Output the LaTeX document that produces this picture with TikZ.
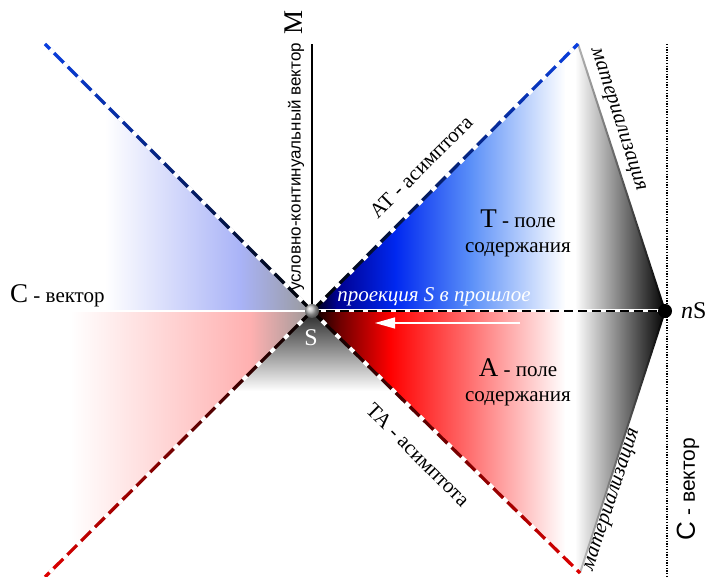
\documentclass[tikz,border=0pt]{standalone}
\usepackage{fontspec}
\setmainfont{Liberation Serif}
\setsansfont{Liberation Sans}
\usetikzlibrary{arrows.meta,calc}
\definecolor{asymblue}{HTML}{0A3FE0}
\definecolor{asymred}{HTML}{E00000}
\definecolor{tnavy}{HTML}{000090}
\definecolor{tblue}{HTML}{0028F0}
\definecolor{tsky}{HTML}{5A8FF8}
\definecolor{adark}{HTML}{700000}
\definecolor{ared}{HTML}{FF0000}
\definecolor{apink}{HTML}{FF7070}
\definecolor{cblue}{HTML}{A9B3F7}
\definecolor{cred}{HTML}{FFB0B0}
\definecolor{cgray}{HTML}{999999}
\newcommand{\txtfs}{\fontsize{21}{25}\selectfont}
\newcommand{\bigfs}{\fontsize{27}{30}\selectfont}

\begin{document}
\begin{tikzpicture}[x=1pt, y=1pt, inner sep=2pt,
    gapdash/.style={white, line width=4pt, dash pattern=on 5.5pt off 14pt, dash phase=5.5pt},
    lbl/.style={font=\txtfs},
    lblit/.style={font=\itshape\txtfs}]
  \fill[white] (0,0) rectangle (709,577);
  \useasboundingbox (0,0) rectangle (709,577);
  % main points
  \coordinate (S) at (312,266);
  \coordinate (nS) at (665,266);
  \coordinate (ul) at (45,533);
  \coordinate (ur) at (578,533);
  \coordinate (ll) at (45,0);
  \coordinate (lr) at (580,4);
  \coordinate (mtop) at (312,533);
  \coordinate (dtop) at (667,533);
  \coordinate (dbot) at (667,0);
  \coordinate (cl) at (0,266);
  \coordinate (pa) at (1.15,1.15);
  \coordinate (pb) at (1.15,-1.15);
  \coordinate (pm) at (0.95,0.31);
  \coordinate (pn) at (0.95,-0.31);

  % T field
  \begin{scope}
    \clip (S) -- (ur) -- (nS) -- cycle;
    \shade[left color=black, right color=tnavy] (311,266) rectangle (336.6,533);
    \shade[left color=tnavy, right color=tblue] (336,266) rectangle (395.6,533);
    \shade[left color=tblue, right color=tsky] (395,266) rectangle (470.6,533);
    \shade[left color=tsky, right color=white] (470,266) rectangle (565.6,533);
    \fill[white] (565,266) rectangle (575.6,533);
    \shade[left color=white, middle color=black!35, right color=black] (575,266) rectangle (666,533);
  \end{scope}
  % A field
  \begin{scope}
    \clip (S) -- (nS) -- (lr) -- cycle;
    \shade[left color=black, right color=adark] (311,0) rectangle (340.6,266);
    \shade[left color=adark, right color=ared] (340,0) rectangle (390.6,266);
    \shade[left color=ared, right color=apink] (390,0) rectangle (470.6,266);
    \shade[left color=apink, right color=white] (470,0) rectangle (565.6,266);
    \fill[white] (565,0) rectangle (575.6,266);
    \shade[left color=white, middle color=black!35, right color=black] (575,0) rectangle (666,266);
  \end{scope}
  % C fields on the left
  \begin{scope}
    \clip (S) -- (ul) -- (0,533) -- (cl) -- cycle;
    \shade[left color=white, right color=cblue] (105,266) rectangle (240.6,533);
    \shade[left color=cblue, right color=cgray] (240,266) rectangle (313,533);
  \end{scope}
  \begin{scope}
    \clip (S) -- (ll) -- (0,0) -- (cl) -- cycle;
    \shade[left color=white, right color=cred] (70,0) rectangle (250.6,266);
    \shade[left color=cred, right color=cgray] (250,0) rectangle (313,266);
  \end{scope}
  % shadow below S
  \shade[top color=black!85, middle color=black!40, bottom color=white]
    (S) -- (232,186) -- (392,186) -- cycle;

  % vectors
  \draw[white, line width=1.6pt] (cl) -- (S);
  \draw[black, line width=1.4pt] (S) -- (mtop);
  \draw[black, line width=1.3pt, dash pattern=on 1.3pt off 1.4pt] (dtop) -- (dbot);

  % materialisation
  \shade[top color=black!30, bottom color=black]
    ($(ur)+(pm)$) -- ($(nS)+(pm)$) -- ($(nS)-(pm)$) -- ($(ur)-(pm)$) -- cycle;
  \shade[top color=black, bottom color=black!25]
    ($(nS)+(pn)$) -- ($(lr)+(pn)$) -- ($(lr)-(pn)$) -- ($(nS)-(pn)$) -- cycle;

  % asymptotes
  \shade[left color=asymblue, middle color=asymblue!70!black, right color=black]
    ($(ul)+(pa)$) -- ($(S)+(pa)$) -- ($(S)-(pa)$) -- ($(ul)-(pa)$) -- cycle;
  \shade[left color=black, middle color=asymblue!70!black, right color=asymblue]
    ($(S)+(pb)$) -- ($(ur)+(pb)$) -- ($(ur)-(pb)$) -- ($(S)-(pb)$) -- cycle;
  \shade[left color=asymred, middle color=asymred!65!black, right color=black]
    ($(ll)+(pb)$) -- ($(S)+(pb)$) -- ($(S)-(pb)$) -- ($(ll)-(pb)$) -- cycle;
  \shade[left color=black, middle color=asymred!60!black, right color=asymred]
    ($(S)+(pa)$) -- ($(lr)+(pa)$) -- ($(lr)-(pa)$) -- ($(S)-(pa)$) -- cycle;
  \draw[gapdash] (S) -- (ul);
  \draw[gapdash] (S) -- (ur);
  \draw[gapdash] (S) -- (ll);
  \draw[gapdash] (S) -- (lr);

  % projection
  \draw[white, line width=3pt] (S) -- (nS);
  \draw[black, line width=2pt, dash pattern=on 9pt off 5pt] (S) -- (nS);
  \coordinate (arrs) at (520,254);
  \coordinate (arre) at (375,254);
  \draw[white, line width=1.3pt, -{Triangle[length=20pt,width=11pt]}] (arrs) -- (arre);

  \shade[ball color=gray!55] (S) circle (7);
  \fill[black] (nS) circle (7);

  % labels
  \node[font=\bigfs, rotate=90] (mlab) at (294,554) {M};
  \node[font=\sffamily\fontsize{17}{20}\selectfont, rotate=90] (mvec) at (296,410) {условно-континуальный вектор};
  \node[anchor=base west, inner sep=0pt] (cleft) at (10,274) {\txtfs{\bigfs С} - вектор};
  \node[text=white, font=\fontsize{24}{26}\selectfont] (slab) at (311,239) {S};
  \node[anchor=west, font=\fontsize{24}{26}\selectfont] (nslab) at (679,266) {\textit{n}S};
  \node[lblit, text=white] (proj) at (434,280) {проекция S в прошлое};
  \node[lbl, rotate=45] (atlab) at (421,410) {АТ - асимптота};
  \node[lbl, rotate=-45] (talab) at (418,122) {ТА - асимптота};
  \node[lbl, align=center] (tfield) at (518,344) {{\bigfs Т} - поле\\содержания};
  \node[lbl, align=center] (afield) at (518,195) {{\bigfs А} - поле\\содержания};
  \node[lblit, rotate=-72] (mat1) at (617,457) {материализация};
  \node[lblit, rotate=72] (mat2) at (613,77) {материализация};
  \node[font=\sffamily\fontsize{21}{24}\selectfont, rotate=90] (cright) at (688,88)
    {{\fontsize{26}{28}\selectfont С} - вектор};
\end{tikzpicture}
\end{document}
